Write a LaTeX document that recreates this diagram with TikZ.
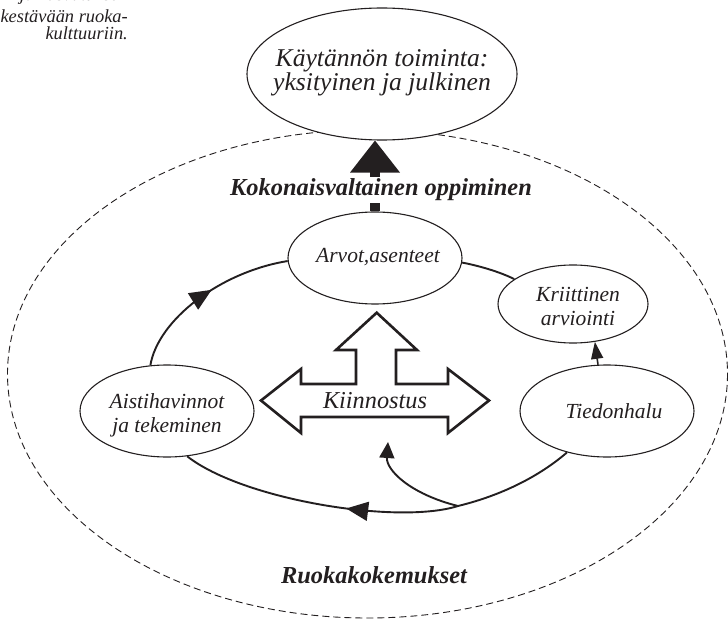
\documentclass[tikz,border=0pt]{standalone}
\usepackage{fontspec}
\setmainfont{Liberation Serif}
\usetikzlibrary{shapes.geometric, arrows.meta, decorations.markings, calc}
\definecolor{ink}{RGB}{35,31,32}
\begin{document}
\begin{tikzpicture}[x=1pt, y=-1pt,
  oval/.style 2 args={draw=ink, line width=1.1pt, ellipse, inner sep=0pt,
    minimum width=#1, minimum height=#2, fill=white},
  ovaltext/.style={font=\fontsize{21.5}{24}\selectfont\itshape, align=center, text=ink, inner sep=0pt},
  heading/.style={font=\fontsize{24.4}{28}\selectfont\bfseries\itshape, text=ink},
  captext/.style={font=\fontsize{18.4}{16}\selectfont\itshape, text=ink, anchor=base east, inner sep=0pt},
  cyc/.style={draw=ink, line width=1.9pt},
  midtip/.style={postaction={decorate}, decoration={markings,
    mark=at position #1 with {\arrow[ink]{Triangle[length=22pt,width=19pt]}}}}
]
\useasboundingbox (0,0) rectangle (728,620);

% caption in the upper left corner
\node[captext] (cap1) at (128,1) {ja kasvatuksen};
\node[captext] (cap2) at (128,23) {kestävään ruoka-};
\node[captext] (cap3) at (128,40) {kulttuuriin.};

% outer dashed boundary: food experiences
\draw[ink, line width=0.9pt, dash pattern=on 7pt off 4pt]
  (367.5,374) ellipse [x radius=360, y radius=244];

% practice at the top
\node[oval={270pt}{132pt}] (top) at (382,74) {};
\node[ovaltext, font=\fontsize{25.6}{23}\selectfont\itshape] (topTxt) at (382,73)
  {Käytännön toiminta:\\yksityinen ja julkinen};

% the four stations of the learning cycle
\node[oval={174pt}{92pt}] (arvot) at (375,258) {};
\node[ovaltext] (arvotTxt) at (378,257) {Arvot,asenteet};
\node[oval={174pt}{92pt}] (aist) at (167,411) {};
\node[ovaltext] (aistTxt) at (167,415) {Aistihavinnot\\ja tekeminen};
\node[oval={150pt}{78pt}] (krit) at (573,304) {};
\node[ovaltext] (kritTxt) at (578,306) {Kriittinen\\arviointi};
\node[oval={174pt}{92pt}] (tied) at (607,411) {};
\node[ovaltext] (tiedTxt) at (614,411) {Tiedonhalu};

% cycle connectors
\draw[cyc, midtip=0.55] (aist.110) .. controls (158,320) and (220,272) .. (arvot.182);
\draw[cyc] (arvot.357) .. controls (480,266) and (500,272) .. (krit.157);
\draw[cyc, line width=1.6pt, -{Triangle[length=17pt,width=12pt]}] (tied.101) -- (krit.300);
\coordinate (J) at (458,506);
\coordinate (K) at (388,442);
\draw[cyc] (tied.226) .. controls (535,480) and (495,497) .. (J);
\draw[cyc, midtip=0.4] (J) .. controls (398,525) and (243,500) .. (aist.294);
\draw[cyc, -{Triangle[length=16pt,width=15pt]}] (J) .. controls (410,494) and (386,470) .. (K);

% interest: three-way block arrow
\draw[ink, line width=2.6pt, line join=miter, fill=white]
  (376.7,312.7) -- (417,350) -- (396,350) -- (396,384) -- (448,384) -- (448,369)
  -- (489,400.5) -- (448,433) -- (448,417) -- (301,417) -- (301,433)
  -- (261,400.5) -- (301,369) -- (301,384) -- (356,384) -- (356,350)
  -- (336,350) -- cycle;
\node[font=\fontsize{24.3}{28}\selectfont\itshape, text=ink, inner sep=0pt] (kiin) at (375,401) {Kiinnostus};

% holistic learning: thick arrow from values up to practice
\coordinate (tipA) at (arvot.north |- top.south);
\draw[ink, line width=10pt] (arvot.north) -- ($(tipA)+(0,31)$);
\fill[ink] (tipA) -- ++(25,32) -- ++(-50,0) -- cycle;
\node[heading, fill=white, inner xsep=3pt, inner ysep=2pt] (holist) at (381,190) {Kokonaisvaltainen oppiminen};

\node[heading] (ruoka) at (374,575) {Ruokakokemukset};
\end{tikzpicture}
\end{document}
